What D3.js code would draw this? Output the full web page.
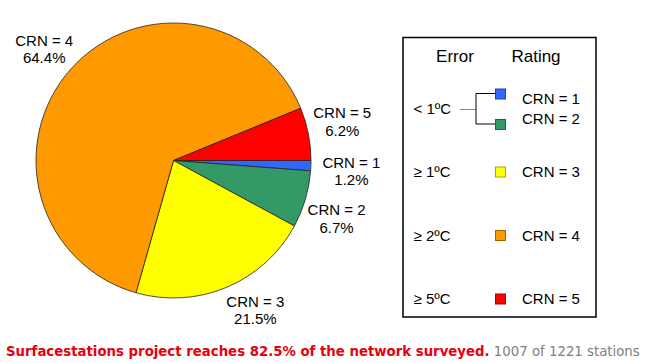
<!DOCTYPE html>
<html>
<head>
<meta charset="utf-8">
<script src="https://cdn.jsdelivr.net/npm/d3@7"></script>
<style>
  body { margin: 0; background: #fff; }
  svg { display: block; }
</style>
</head>
<body>
<svg id="grafico" width="647" height="363"></svg>
<script>
// Data: CRN rating categories and their share of stations.
const categorias = ["CRN = 1", "CRN = 2", "CRN = 3", "CRN = 4", "CRN = 5"];
const percentuais = [1.2, 6.7, 21.5, 64.4, 6.2];
const cores = ["#3366ff", "#339966", "#ffff00", "#ff9900", "#ff0000"];

// Legend: error bands, and which band each rating falls in.
const faixasErro = ["< 1ºC", "≥ 1ºC", "≥ 2ºC", "≥ 5ºC"];
const faixaDaCategoria = [0, 0, 1, 2, 3];

// Caption under the chart.
const tituloDestaque = "Surfacestations project reaches 82.5% of the network surveyed.";
const tituloResto = "1007 of 1221 stations";

// Small label nudges so the pie labels sit where the original put them.
const ajusteRotulo = [[6, 1], [-2, 6], [15, -12], [-1, 0], [0, -9]];

const fonte = "'Liberation Sans', Arial, sans-serif";
const svg = d3.select("#grafico");

desenharPizza();
desenharLegenda();
desenharTitulo();

function desenharPizza() {
    const cx = 173.5, cy = 160.5, raio = 137.5;

    // Slices run clockwise starting at 3 o'clock.
    const pie = d3.pie()
        .sort(null)
        .startAngle(Math.PI / 2)
        .endAngle(Math.PI / 2 + 2 * Math.PI)
        .value(d => d);

    const arcos = pie(percentuais);
    const arco = d3.arc().innerRadius(0).outerRadius(raio);
    const arcoRotulo = d3.arc().innerRadius(172).outerRadius(172);

    const g = svg.append("g").attr("transform", `translate(${cx},${cy})`);

    g.selectAll("path")
        .data(arcos)
        .enter()
        .append("path")
        .attr("d", arco)
        .attr("fill", (d, i) => cores[i])
        .attr("stroke", "#222")
        .attr("stroke-width", 0.8)
        .attr("stroke-linejoin", "round");

    const rotulos = g.selectAll(".rotulo")
        .data(arcos)
        .enter()
        .append("text")
        .attr("class", "rotulo")
        .attr("font-family", fonte)
        .attr("font-size", 15)
        .attr("fill", "#000")
        .attr("text-anchor", "middle")
        .attr("transform", (d, i) => {
            const c = arcoRotulo.centroid(d);
            return `translate(${c[0] + ajusteRotulo[i][0]},${c[1] + ajusteRotulo[i][1]})`;
        });

    rotulos.append("tspan").attr("x", 0).attr("y", 0).text((d, i) => categorias[i]);
    rotulos.append("tspan").attr("x", 0).attr("y", 17.5).text(d => d.data + "%");
}

function desenharLegenda() {
    const g = svg.append("g");

    g.append("rect")
        .attr("x", 403).attr("y", 37.5)
        .attr("width", 193).attr("height", 279.5)
        .attr("fill", "#fff")
        .attr("stroke", "#000")
        .attr("stroke-width", 1.5);

    g.append("text")
        .attr("x", 455).attr("y", 62)
        .attr("text-anchor", "middle")
        .attr("font-family", fonte).attr("font-size", 17)
        .text("Error");

    g.append("text")
        .attr("x", 536).attr("y", 62)
        .attr("text-anchor", "middle")
        .attr("font-family", fonte).attr("font-size", 17)
        .text("Rating");

    // Baseline of each error band row.
    const linhaY = i => 113.5 + 63.5 * i;

    g.selectAll(".faixa")
        .data(faixasErro)
        .enter()
        .append("text")
        .attr("class", "faixa")
        .attr("x", 413.5)
        .attr("y", (d, i) => linhaY(i))
        .attr("font-family", fonte).attr("font-size", 15)
        .text(d => d);

    // The first band holds two ratings, split above and below its row.
    const baseRating = (d, i) => {
        const f = faixaDaCategoria[i];
        const irmaos = faixaDaCategoria.filter(x => x === f).length;
        if (irmaos === 1) return linhaY(f);
        const primeiro = faixaDaCategoria.indexOf(f);
        return i === primeiro ? linhaY(f) - 9.5 : linhaY(f) + 10.5;
    };
    const centroQuadrado = (d, i) => {
        const f = faixaDaCategoria[i];
        const irmaos = faixaDaCategoria.filter(x => x === f).length;
        if (irmaos === 1) return linhaY(f) - 5;
        const primeiro = faixaDaCategoria.indexOf(f);
        return i === primeiro ? linhaY(f) - 19.5 : linhaY(f) + 11;
    };

    // Bracket joining "< 1ºC" to its two ratings.
    const y0 = linhaY(0);
    g.append("line")
        .attr("x1", 460).attr("x2", 476)
        .attr("y1", y0 - 4).attr("y2", y0 - 4)
        .attr("stroke", "#888").attr("stroke-width", 1);
    g.append("path")
        .attr("d", `M496,${y0 - 20}H476V${y0 + 10.5}H496`)
        .attr("fill", "none")
        .attr("stroke", "#000").attr("stroke-width", 1);

    g.selectAll(".quadrado")
        .data(categorias)
        .enter()
        .append("rect")
        .attr("class", "quadrado")
        .attr("x", 495.5)
        .attr("y", (d, i) => centroQuadrado(d, i) - 5)
        .attr("width", 10).attr("height", 10)
        .attr("fill", (d, i) => cores[i])
        .attr("stroke", (d, i) => d3.color(cores[i]).darker(1.2))
        .attr("stroke-width", 1);

    g.selectAll(".rating")
        .data(categorias)
        .enter()
        .append("text")
        .attr("class", "rating")
        .attr("x", 522)
        .attr("y", baseRating)
        .attr("font-family", fonte).attr("font-size", 15)
        .text(d => d);
}

function desenharTitulo() {
    const t = svg.append("text")
        .attr("x", 6).attr("y", 356)
        .attr("font-family", "Verdana, 'DejaVu Sans', sans-serif")
        .attr("font-size", 13.3);

    t.append("tspan")
        .attr("font-weight", "bold")
        .attr("fill", "#e8000e")
        .text(tituloDestaque);

    t.append("tspan")
        .attr("fill", "#808080")
        .text(" " + tituloResto);
}
</script>
</body>
</html>
